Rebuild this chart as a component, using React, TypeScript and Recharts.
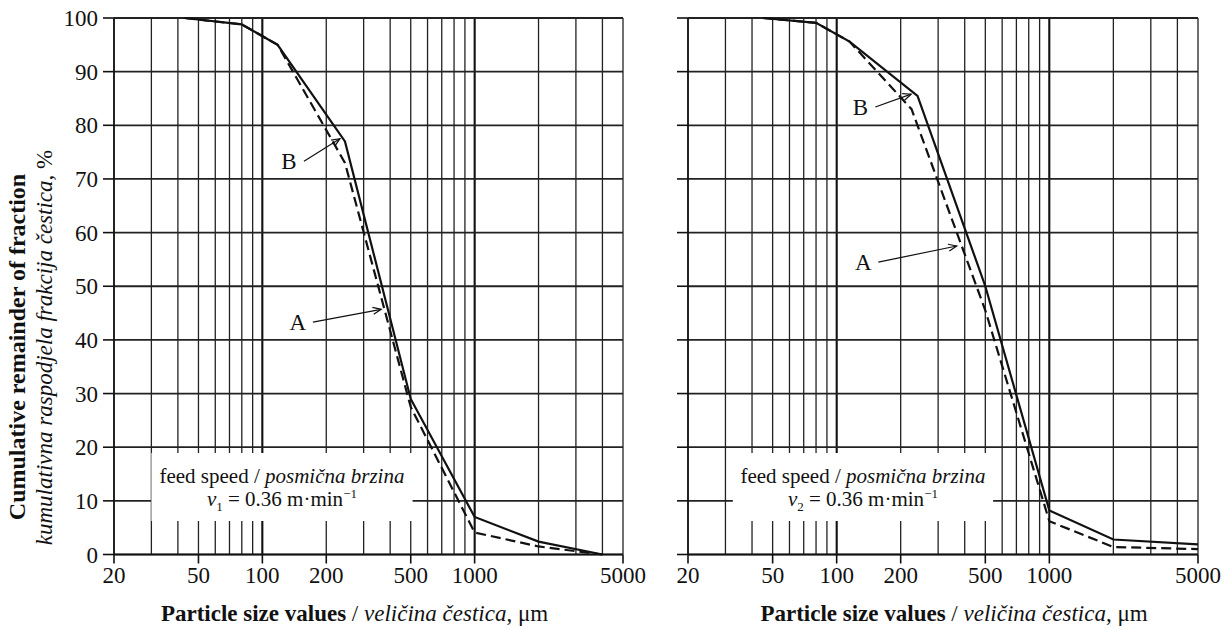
import React from 'react';
import { LineChart, Line, XAxis, YAxis, CartesianGrid, ReferenceLine, ReferenceArea } from 'recharts';

const FONT = '"Liberation Serif", "Times New Roman", serif';
const INK = '#111';

// axis values
const sizeTicks = [20, 50, 100, 200, 500, 1000, 5000];
const gridSizes = [20, 30, 40, 50, 60, 70, 80, 90, 100, 200, 300, 400, 500, 600, 700, 800, 900, 1000, 2000, 3000, 4000, 5000];
const decadeSizes = [100, 1000];
const percentTicks = [0, 10, 20, 30, 40, 50, 60, 70, 80, 90, 100];

// panel 1 (v1)
const sizes1A = [43, 80, 118, 245, 500, 1000, 2000, 4000];
const remainder1A = [100, 98.8, 95, 77, 29, 7, 2.4, 0];
const sizes1B = [43, 80, 118, 245, 500, 1000, 2000, 4000];
const remainder1B = [100, 98.8, 95, 73, 27.5, 4.1, 1.5, 0];

// panel 2 (v2)
const sizes2A = [45, 80, 115, 240, 500, 1000, 2000, 5000];
const remainder2A = [100, 99.1, 95.6, 85.5, 50, 8.2, 2.8, 1.9];
const sizes2B = [45, 80, 115, 225, 500, 1000, 2000, 5000];
const remainder2B = [100, 99.1, 95.6, 83, 45.5, 6.2, 1.4, 1.0];

// labelled pointers: [text, fromSize, fromPct, toSize, toPct]
const notes1 = [
    ['B', 157, 73.3, 232, 77.5],
    ['A', 173, 43.3, 363, 45.7],
];
const notes2 = [
    ['B', 152, 83.4, 224, 85.8],
    ['A', 157, 54.5, 367, 57.5],
];

// white box with the feed speed: [x1, x2, y1, y2]
const box1 = [30, 510, 6.25, 18.9];
const box2 = [32.5, 544, 6.25, 18.9];

const toPoints = (xs: number[], ys: number[]) => xs.map((x, i) => ({ size: x, value: ys[i] }));

const Pointer = (props: any) => {
    const { x1, y1, x2, y2, text } = props;
    const ang = Math.atan2(y2 - y1, x2 - x1);
    const head = 9;
    const spread = 0.4;
    const a = [x2 - head * Math.cos(ang - spread), y2 - head * Math.sin(ang - spread)];
    const b = [x2 - head * Math.cos(ang + spread), y2 - head * Math.sin(ang + spread)];
    return (
        <g>
            <line x1={x1} y1={y1} x2={x2} y2={y2} stroke={INK} strokeWidth={1.2} />
            <polyline points={`${a[0]},${a[1]} ${x2},${y2} ${b[0]},${b[1]}`} fill="none" stroke={INK} strokeWidth={1.2} />
            <text x={x1 - 15} y={y1 + 8} textAnchor="middle" fontSize={23} fontFamily={FONT} fill={INK}>
                {text}
            </text>
        </g>
    );
};

const SpeedNote = (props: any) => {
    const { viewBox, index } = props;
    const cx = viewBox.x + viewBox.width / 2;
    return (
        <g fontFamily={FONT} fill={INK}>
            <text x={cx} y={viewBox.y + 30} textAnchor="middle" fontSize={21}>
                feed speed / <tspan fontStyle="italic">posmična brzina</tspan>
            </text>
            <text x={cx} y={viewBox.y + 53} textAnchor="middle" fontSize={21}>
                <tspan fontStyle="italic">v</tspan>
                <tspan fontSize={13} dy={5}>{index}</tspan>
                <tspan dy={-5}> = 0.36 m·min</tspan>
                <tspan fontSize={13} dy={-8}>−1</tspan>
            </text>
        </g>
    );
};

type PanelProps = {
    left: number;
    width: number;
    yAxisWidth: number;
    marginRight: number;
    showYLabels: boolean;
    lineA: { size: number; value: number }[];
    lineB: { size: number; value: number }[];
    box: number[];
    notes: (string | number)[][];
    index: string;
};

const Panel: React.FC<PanelProps> = ({ left, width, yAxisWidth, marginRight, showYLabels, lineA, lineB, box, notes, index }) => {
    return (
        <div style={{ position: 'absolute', left, top: 0 }}>
            <LineChart width={width} height={630} margin={{ top: 18, right: marginRight, bottom: 35.5, left: 0 }}>
                <CartesianGrid horizontal={false} verticalValues={gridSizes} stroke="#222" strokeWidth={1.3} />
                <CartesianGrid horizontal={false} verticalValues={decadeSizes} stroke="#111" strokeWidth={2} />
                <CartesianGrid vertical={false} horizontalValues={percentTicks} stroke="#222" strokeWidth={1.8} />
                <XAxis
                    dataKey="size"
                    type="number"
                    scale="log"
                    domain={[20, 5000]}
                    allowDataOverflow
                    ticks={sizeTicks}
                    interval={0}
                    height={40}
                    axisLine={{ stroke: INK, strokeWidth: 1.6 }}
                    tickLine={{ stroke: INK, strokeWidth: 1.6 }}
                    tickSize={9}
                    tickMargin={3}
                    tick={{ fill: INK, fontSize: 23, fontFamily: FONT }}
                />
                <YAxis
                    type="number"
                    domain={[0, 100]}
                    ticks={percentTicks}
                    interval={0}
                    width={yAxisWidth}
                    axisLine={{ stroke: INK, strokeWidth: 1.6 }}
                    tickLine={{ stroke: INK, strokeWidth: 1.6 }}
                    tickSize={11}
                    tickMargin={5}
                    tick={{ fill: INK, fontSize: 23, fontFamily: FONT }}
                    tickFormatter={showYLabels ? undefined : () => ''}
                />
                <ReferenceArea
                    x1={box[0]}
                    x2={box[1]}
                    y1={box[2]}
                    y2={box[3]}
                    fill="#fff"
                    fillOpacity={1}
                    stroke="none"
                    label={<SpeedNote index={index} />}
                />
                <Line data={lineA} dataKey="value" stroke={INK} strokeWidth={2.2} dot={false} isAnimationActive={false} />
                <Line data={lineB} dataKey="value" stroke={INK} strokeWidth={2.2} strokeDasharray="10 5" dot={false} isAnimationActive={false} />
                {notes.map((n) => (
                    <ReferenceLine
                        key={String(n[0])}
                        segment={[{ x: n[1] as number, y: n[2] as number }, { x: n[3] as number, y: n[4] as number }]}
                        shape={(p: any) => <Pointer {...p} text={n[0]} />}
                    />
                ))}
            </LineChart>
        </div>
    );
};

const XTitle: React.FC<{ center: number }> = ({ center }) => (
    <div
        style={{
            position: 'absolute',
            left: center - 300,
            top: 601.7,
            width: 600,
            textAlign: 'center',
            fontSize: 23,
            lineHeight: '23px',
            fontFamily: FONT,
            color: INK,
            whiteSpace: 'nowrap',
        }}
    >
        <b>Particle size values</b> / <i>veličina čestica</i>, μm
    </div>
);

export default function App() {
    return (
        <div style={{ position: 'absolute', left: 0, top: 0, width: 1231, height: 630, background: '#fff', overflow: 'hidden' }}>
            <Panel
                left={0}
                width={650}
                yAxisWidth={114}
                marginRight={27}
                showYLabels
                lineA={toPoints(sizes1A, remainder1A)}
                lineB={toPoints(sizes1B, remainder1B)}
                box={box1}
                notes={notes1}
                index="1"
            />
            <Panel
                left={640}
                width={591}
                yAxisWidth={48}
                marginRight={33}
                showYLabels={false}
                lineA={toPoints(sizes2A, remainder2A)}
                lineB={toPoints(sizes2B, remainder2B)}
                box={box2}
                notes={notes2}
                index="2"
            />
            <XTitle center={354.5} />
            <XTitle center={954} />
            <div
                style={{
                    position: 'absolute',
                    left: 16.9 - 250,
                    top: 347 - 12,
                    width: 500,
                    height: 24,
                    lineHeight: '24px',
                    fontSize: 24,
                    fontWeight: 'bold',
                    fontFamily: FONT,
                    color: INK,
                    textAlign: 'center',
                    whiteSpace: 'nowrap',
                    transform: 'rotate(-90deg)',
                }}
            >
                Cumulative remainder of fraction
            </div>
            <div
                style={{
                    position: 'absolute',
                    left: 44.2 - 250,
                    top: 347 - 11.5,
                    width: 500,
                    height: 23,
                    lineHeight: '23px',
                    fontSize: 23,
                    fontStyle: 'italic',
                    fontFamily: FONT,
                    color: INK,
                    textAlign: 'center',
                    whiteSpace: 'nowrap',
                    transform: 'rotate(-90deg)',
                }}
            >
                kumulativna raspodjela frakcija čestica, <span style={{ fontStyle: 'normal' }}>%</span>
            </div>
        </div>
    );
}
